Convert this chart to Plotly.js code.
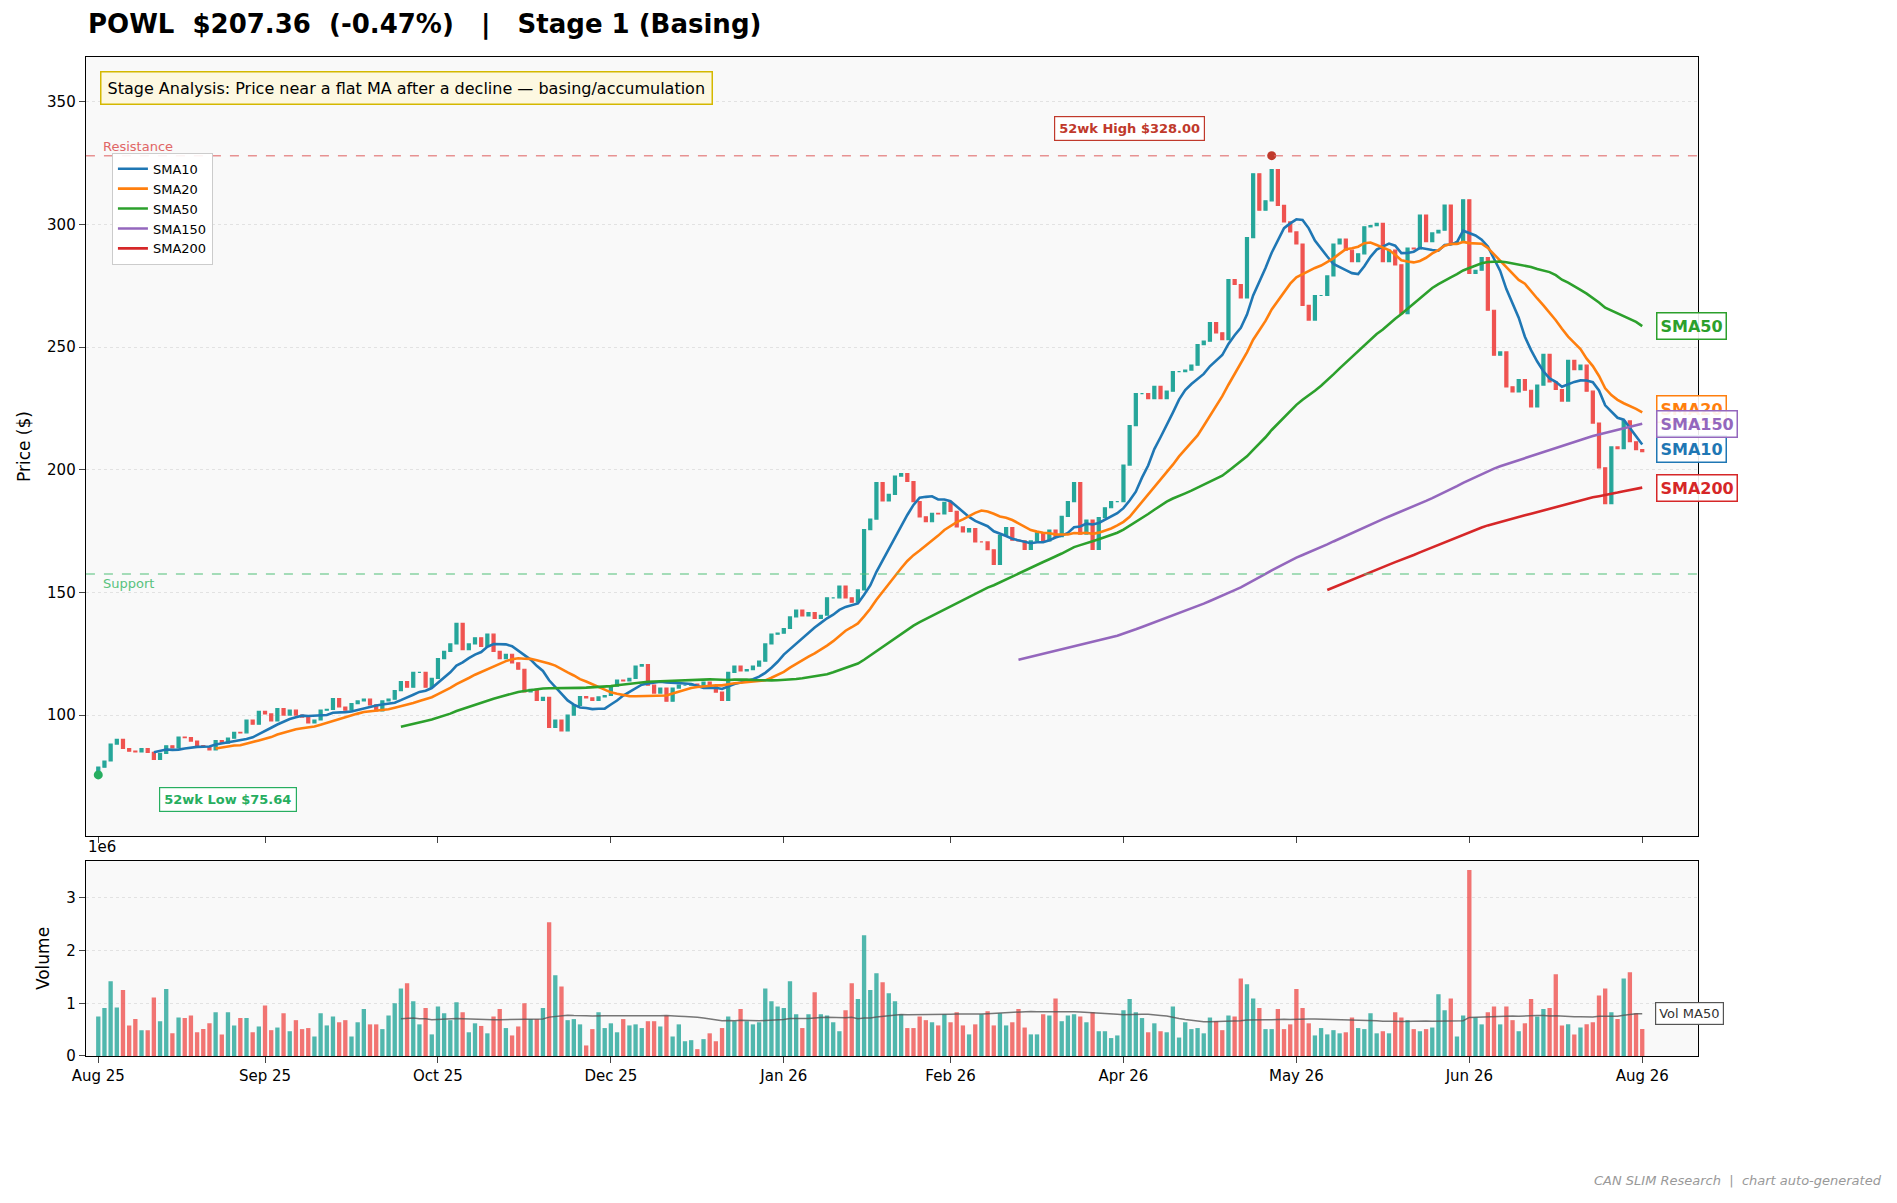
<!DOCTYPE html>
<html>
<head>
<meta charset="utf-8">
<script src="https://cdn.plot.ly/plotly-3.0.1.min.js"></script>
<style>
  body { margin: 0; background: #fff; }
  #plot { width: 1897px; height: 1203px; }
</style>
</head>
<body>
<div id="plot"></div>
<script>
// daily closes (Aug 25 .. Aug 26)
const closes = [
  78.8, 81.3, 88.2, 90.1, 86.4, 85.3, 85.0, 86.4, 84.8, 82.0,
  84.4, 87.5, 86.6, 91.0, 90.8, 89.4, 87.6, 87.2, 85.8, 89.6,
  88.6, 90.6, 93.0, 92.8, 98.0, 96.3, 101.5, 100.5, 97.6, 102.7,
  100.0, 102.0, 100.0, 99.2, 96.8, 98.0, 102.0, 102.3, 106.7, 103.3,
  102.0, 104.7, 105.8, 106.5, 104.2, 101.7, 105.8, 106.5, 110.0, 113.7,
  111.4, 117.4, 117.4, 111.4, 115.0, 123.0, 126.0, 129.0, 137.4, 126.7,
  129.0, 131.5, 128.0, 133.0, 126.0, 123.0, 124.8, 121.3, 118.7, 109.5,
  110.5, 106.0, 107.2, 95.0, 98.0, 93.6, 100.0, 104.0, 107.5, 107.0,
  106.0, 107.4, 108.0, 111.8, 114.3, 113.9, 115.0, 120.0, 120.6, 112.2,
  109.0, 111.0, 105.7, 111.0, 112.2, 112.2, 112.6, 111.8, 113.5, 112.0,
  109.4, 106.0, 117.4, 120.0, 118.0, 118.5, 120.0, 122.0, 129.0, 133.0,
  133.4, 135.3, 140.0, 142.8, 140.4, 141.8, 139.4, 140.7, 147.8, 147.8,
  152.6, 147.8, 146.0, 151.0, 175.6, 179.9, 194.8, 187.3, 190.0, 197.4,
  198.4, 195.2, 187.0, 180.8, 178.8, 182.2, 182.0, 186.7, 183.0, 176.7,
  174.7, 176.0, 170.6, 170.6, 167.4, 161.4, 173.3, 176.4, 171.3, 171.0,
  167.5, 171.0, 174.3, 171.0, 175.4, 172.7, 181.0, 187.0, 194.8, 173.8,
  179.5, 167.5, 180.5, 184.5, 187.0, 187.0, 201.9, 218.0, 231.0, 231.0,
  229.0, 234.0, 229.0, 232.0, 240.0, 240.0, 240.6, 242.6, 251.0, 252.4,
  260.0, 255.8, 253.0, 277.5, 275.5, 270.0, 294.6, 320.6, 305.8, 309.6,
  322.3, 307.7, 301.0, 296.9, 292.0, 267.0, 261.0, 271.0, 271.0, 279.0,
  292.0, 294.0, 289.5, 284.8, 288.0, 299.0, 299.5, 300.4, 284.8, 289.5,
  283.5, 263.6, 290.3, 290.0, 303.8, 293.0, 296.5, 297.6, 307.9, 292.0,
  292.9, 310.0, 280.0, 281.3, 286.5, 265.0, 246.7, 248.0, 233.8, 231.7,
  236.7, 232.4, 225.6, 234.5, 247.0, 235.8, 232.7, 228.0, 244.6, 240.8,
  242.6, 232.0, 219.0, 200.8, 186.2, 209.3, 208.6, 219.9, 211.4, 208.2,
  207.36
];

// daily volume, millions
const volumes = [
  0.75, 0.91, 1.42, 0.92, 1.25, 0.58, 0.70, 0.49, 0.49, 1.11,
  0.66, 1.27, 0.43, 0.73, 0.72, 0.77, 0.45, 0.51, 0.62, 0.83,
  0.41, 0.83, 0.58, 0.72, 0.72, 0.45, 0.56, 0.96, 0.49, 0.54,
  0.81, 0.47, 0.68, 0.51, 0.53, 0.37, 0.81, 0.58, 0.75, 0.64,
  0.68, 0.37, 0.64, 0.89, 0.60, 0.60, 0.51, 0.77, 1.00, 1.28,
  1.38, 1.04, 0.60, 0.91, 0.41, 0.94, 0.81, 0.68, 1.02, 0.83,
  0.45, 0.62, 0.57, 0.43, 0.75, 0.89, 0.53, 0.39, 0.56, 1.00,
  0.70, 0.70, 0.91, 2.54, 1.53, 1.32, 0.68, 0.70, 0.60, 0.20,
  0.51, 0.83, 0.53, 0.62, 0.45, 0.70, 0.58, 0.60, 0.53, 0.66,
  0.66, 0.56, 0.77, 0.37, 0.60, 0.28, 0.30, 0.13, 0.32, 0.43,
  0.28, 0.53, 0.75, 0.66, 0.89, 0.66, 0.60, 0.64, 1.28, 1.04,
  0.94, 0.91, 1.42, 0.79, 0.53, 0.79, 1.21, 0.79, 0.77, 0.64,
  0.47, 0.87, 1.38, 1.08, 2.29, 1.25, 1.57, 1.40, 1.19, 1.04,
  0.79, 0.53, 0.53, 0.75, 0.68, 0.64, 0.58, 0.79, 0.64, 0.83,
  0.58, 0.41, 0.60, 0.79, 0.85, 0.58, 0.81, 0.58, 0.64, 0.89,
  0.54, 0.41, 0.41, 0.79, 0.77, 1.09, 0.66, 0.77, 0.79, 0.75,
  0.64, 0.83, 0.47, 0.47, 0.34, 0.39, 0.87, 1.08, 0.83, 0.72,
  0.45, 0.62, 0.47, 0.45, 0.94, 0.35, 0.64, 0.51, 0.53, 0.43,
  0.73, 0.66, 0.49, 0.77, 0.75, 1.47, 1.36, 1.09, 0.91, 0.51,
  0.51, 0.89, 0.51, 0.60, 1.27, 0.91, 0.62, 0.39, 0.53, 0.41,
  0.49, 0.43, 0.45, 0.73, 0.53, 0.51, 0.81, 0.43, 0.47, 0.43,
  0.83, 0.73, 0.68, 0.51, 0.47, 0.51, 0.54, 1.17, 0.87, 1.09,
  0.37, 0.77, 3.53, 0.73, 0.60, 0.83, 0.94, 0.60, 0.94, 0.68,
  0.47, 0.62, 1.08, 0.75, 0.89, 0.91, 1.55, 0.58, 0.60, 0.41,
  0.54, 0.60, 0.64, 1.15, 1.28, 0.83, 0.70, 1.47, 1.59, 0.81,
  0.51
];

const tickIdx = [0, 27, 55, 83, 111, 138, 166, 194, 222, 250];
const tickLabels = ["Aug 25", "Sep 25", "Oct 25", "Dec 25", "Jan 26", "Feb 26", "Apr 26", "May 26", "Jun 26", "Aug 26"];

const maPeriods = [10, 20, 50, 150, 200];
const maNames = ["SMA10", "SMA20", "SMA50", "SMA150", "SMA200"];
const maColors = ["#1f77b4", "#ff7f0e", "#2ca02c", "#9467bd", "#d62728"];

const high52 = 328.00, high52Idx = 190;
const low52 = 75.64, low52Idx = 0;
const resistance = 328.0, support = 157.5;

const UP = "#26a69a", DOWN = "#ef5350";

function sma(arr, n) {
  return arr.map(function (v, i) {
    if (i < n - 1) return null;
    let s = 0;
    for (let k = i - n + 1; k <= i; k++) s += arr[k];
    return s / n;
  });
}

const idx = closes.map(function (c, i) { return i; });
const opens = closes.map(function (c, i) { return i === 0 ? 77.0 : closes[i - 1]; });
const highs = closes.map(function (c, i) { return Math.max(c, opens[i]); });
const lows = closes.map(function (c, i) { return Math.min(c, opens[i]); });
const volColors = closes.map(function (c, i) { return c >= opens[i] ? UP : DOWN; });

const data = [{
  type: "candlestick", x: idx, open: opens, high: highs, low: lows, close: closes,
  increasing: { line: { color: UP, width: 1.2 }, fillcolor: UP },
  decreasing: { line: { color: DOWN, width: 1.2 }, fillcolor: DOWN },
  whiskerwidth: 0, showlegend: false, hoverinfo: "skip", xaxis: "x", yaxis: "y"
}];

const lastVals = [];
maPeriods.forEach(function (n, k) {
  const y = sma(closes, n);
  lastVals.push(y[y.length - 1]);
  data.push({
    type: "scatter", mode: "lines", x: idx, y: y, name: maNames[k],
    line: { color: maColors[k], width: 2.6 }, xaxis: "x", yaxis: "y"
  });
});

data.push({
  type: "scatter", mode: "markers", x: [high52Idx, low52Idx], y: [high52, low52],
  marker: { color: ["#c0392b", "#27ae60"], size: 9 }, showlegend: false, xaxis: "x", yaxis: "y"
});

data.push({
  type: "bar", x: idx, y: volumes.map(function (v) { return v * 1e6; }),
  marker: { color: volColors, opacity: 0.8 }, width: 0.7, showlegend: false,
  xaxis: "x2", yaxis: "y2"
});
const volMA = sma(volumes, 50).map(function (v) { return v === null ? null : v * 1e6; });
data.push({
  type: "scatter", mode: "lines", x: idx, y: volMA, line: { color: "#555", width: 1.5 },
  opacity: 0.8, showlegend: false, xaxis: "x2", yaxis: "y2"
});

const font = { family: "DejaVu Sans", size: 15, color: "#000" };
const xr = [-2, 259];

const annotations = [
  { xref: "paper", yref: "paper", x: 0.0453, y: 0.980, xanchor: "left", yanchor: "middle",
    text: "<b>POWL  $207.36  (-0.47%)   |   Stage 1 (Basing)</b>", showarrow: false,
    font: { family: "DejaVu Sans", size: 26, color: "#000" } },
  { xref: "paper", yref: "paper", x: 0.0525, y: 0.927, xanchor: "left", yanchor: "middle",
    text: "Stage Analysis: Price near a flat MA after a decline — basing/accumulation",
    showarrow: false, font: { family: "DejaVu Sans", size: 16, color: "#000" },
    bgcolor: "#fdf8e1", bordercolor: "#d4b800", borderwidth: 1.5, borderpad: 6 },
  { xref: "x", yref: "y", x: 167, y: 339, text: "<b>52wk High $328.00</b>", showarrow: false,
    font: { family: "DejaVu Sans", size: 13, color: "#c0392b" },
    bgcolor: "#fff", bordercolor: "#c0392b", borderwidth: 1.2, borderpad: 4 },
  { xref: "x", yref: "y", x: 21, y: 65.5, text: "<b>52wk Low $75.64</b>", showarrow: false,
    font: { family: "DejaVu Sans", size: 13, color: "#27ae60" },
    bgcolor: "#fff", bordercolor: "#27ae60", borderwidth: 1.2, borderpad: 4 },
  { xref: "x", yref: "y", x: 0.5, y: resistance, xanchor: "left", yanchor: "bottom",
    text: "Resistance", showarrow: false, font: { family: "DejaVu Sans", size: 13, color: "#e06666" } },
  { xref: "x", yref: "y", x: 0.5, y: support, xanchor: "left", yanchor: "top",
    text: "Support", showarrow: false, font: { family: "DejaVu Sans", size: 13, color: "#58c27d" } },
  { xref: "paper", yref: "paper", x: 0.0453, y: 0.2865, xanchor: "left", yanchor: "bottom",
    text: "1e6", showarrow: false, font: font },
  { xref: "x2", yref: "y2", x: 252, y: volMA[volMA.length - 1], xanchor: "left",
    text: "Vol MA50", showarrow: false, font: { family: "DejaVu Sans", size: 13, color: "#333" },
    bgcolor: "#fff", bordercolor: "#555", borderwidth: 1.2, borderpad: 3 },
  { xref: "paper", yref: "paper", x: 0.993, y: 0.011, xanchor: "right",
    text: "<i>CAN SLIM Research  |  chart auto-generated</i>", showarrow: false,
    font: { family: "DejaVu Sans", size: 13, color: "#999" } }
];

// right-hand MA labels; SMA20/SMA150 placed as in the original
const labelY = [lastVals[0] - 2, lastVals[1] + 1.5, lastVals[2], lastVals[3], lastVals[4]];
maNames.forEach(function (nm, k) {
  annotations.push({
    xref: "x", yref: "y", x: 252.3, y: labelY[k], xanchor: "left", text: "<b>" + nm + "</b>",
    showarrow: false, font: { family: "DejaVu Sans", size: 16, color: maColors[k] },
    bgcolor: "rgba(255,255,255,0.9)", bordercolor: maColors[k], borderwidth: 1.5, borderpad: 3
  });
});

const layout = {
  width: 1897, height: 1203, paper_bgcolor: "#fff", plot_bgcolor: "#f9f9f9",
  margin: { l: 0, r: 0, t: 0, b: 0 }, font: font, bargap: 0.3,
  showlegend: true,
  legend: { x: 0.059, y: 0.873, xanchor: "left", yanchor: "top", bgcolor: "rgba(255,255,255,0.9)",
    bordercolor: "#ccc", borderwidth: 1, font: { family: "DejaVu Sans", size: 13 }, tracegroupgap: 0 },
  xaxis: { domain: [0.0453, 0.895], range: xr, anchor: "y", rangeslider: { visible: false },
    tickvals: tickIdx, showticklabels: false, ticks: "outside", ticklen: 6, showgrid: false,
    showline: true, mirror: true, linecolor: "#000", linewidth: 1.2, zeroline: false },
  yaxis: { domain: [0.305, 0.9526], range: [50.7, 368.2], dtick: 50, tick0: 0,
    ticks: "outside", ticklen: 6, showgrid: true, gridcolor: "#e2e2e2", griddash: "dot",
    showline: true, mirror: true, linecolor: "#000", linewidth: 1.2, zeroline: false,
    title: { text: "Price ($)", font: { family: "DejaVu Sans", size: 17 }, standoff: 12 } },
  xaxis2: { domain: [0.0453, 0.895], range: xr, anchor: "y2", matches: "x",
    tickvals: tickIdx, ticktext: tickLabels, ticks: "outside", ticklen: 6, showgrid: false,
    showline: true, mirror: true, linecolor: "#000", linewidth: 1.2, zeroline: false },
  yaxis2: { domain: [0.1222, 0.2843], range: [0, 3.7e6], tickvals: [0, 1e6, 2e6, 3e6],
    ticktext: ["0", "1", "2", "3"], ticks: "outside", ticklen: 6, showgrid: true,
    gridcolor: "#e2e2e2", griddash: "dot", showline: true, mirror: true, linecolor: "#000",
    linewidth: 1.2, zeroline: false,
    title: { text: "Volume", font: { family: "DejaVu Sans", size: 17 }, standoff: 12 } },
  shapes: [
    { type: "line", xref: "paper", x0: 0.0453, x1: 0.895, yref: "y", y0: resistance, y1: resistance,
      line: { color: "rgba(224,102,102,0.7)", width: 1.5, dash: "dash" } },
    { type: "line", xref: "paper", x0: 0.0453, x1: 0.895, yref: "y", y0: support, y1: support,
      line: { color: "rgba(88,194,125,0.7)", width: 1.5, dash: "dash" } }
  ],
  annotations: annotations
};

Plotly.newPlot("plot", data, layout, { staticPlot: true });
</script>
</body>
</html>
